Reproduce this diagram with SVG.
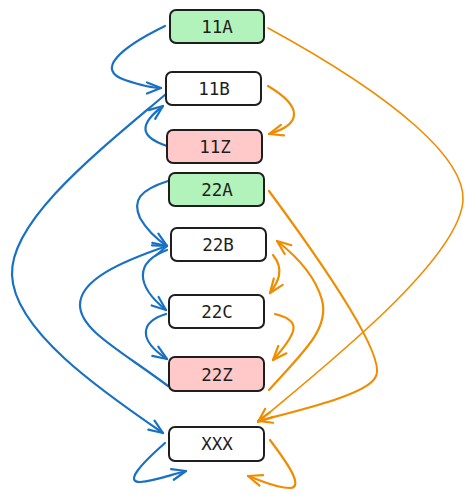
<svg xmlns="http://www.w3.org/2000/svg" width="475" height="497" viewBox="0 0 475 497">
<defs>
<style>
.box{stroke:#1e1e1e;stroke-width:2}
.lbl{font-family:"DejaVu Sans Mono","Liberation Mono",monospace;font-size:17.5px;fill:#1e1e1e;text-anchor:middle;dominant-baseline:central}
.b{fill:none;stroke:#1971c2;stroke-width:2.2;stroke-linecap:round}
.o{fill:none;stroke:#f08c00;stroke-width:2.2;stroke-linecap:round}
.thin{stroke-width:1.6}
</style>
<marker id="ab" markerUnits="userSpaceOnUse" orient="auto" markerWidth="30" markerHeight="30" refX="0" refY="0" overflow="visible">
<path d="M-14,-5.5 L0,0 L-14,5.5" fill="none" stroke="#1971c2" stroke-width="2.2" stroke-linecap="round" stroke-linejoin="round"/>
</marker>
<marker id="ao" markerUnits="userSpaceOnUse" orient="auto" markerWidth="30" markerHeight="30" refX="0" refY="0" overflow="visible">
<path d="M-14,-5.5 L0,0 L-14,5.5" fill="none" stroke="#f08c00" stroke-width="2.2" stroke-linecap="round" stroke-linejoin="round"/>
</marker>
</defs>
<rect width="475" height="497" fill="#ffffff"/>
<g id="connectors">
<path class="b" marker-end="url(#ab)" d="M165,26 C120,48 95,70 125,80 C140,85 150,88 161,88"/>
<path class="b" marker-end="url(#ab)" d="M167,146 C140,137 138,125 163,106"/>
<path class="b" marker-end="url(#ab)" d="M166,94 C100,150 10,220 12,275 C14,330 100,390 163,433"/>
<path class="b" marker-end="url(#ab)" d="M168,181 C140,190 132,200 140,218 C148,232 158,240 167,246"/>
<path class="b" marker-end="url(#ab)" d="M168,386 C120,350 80,330 80,305 C80,280 120,262 167,246"/>
<path class="b" marker-end="url(#ab)" d="M167,250 C135,262 135,285 166,310"/>
<path class="b" marker-end="url(#ab)" d="M166,314 C140,322 138,340 167,359"/>
<path class="b" marker-end="url(#ab)" d="M165,443 C140,465 125,482 140,482 C155,481 170,475 186,471"/>
<path class="o thin" marker-end="url(#ao)" d="M268,28 C400,100 465,160 463,200 C460,260 320,370 258,422"/>
<path class="o" marker-end="url(#ao)" d="M268,86 C305,108 300,125 269,134"/>
<path class="o" marker-end="url(#ao)" d="M269,191 C320,260 390,360 375,378 C365,395 300,410 258,421"/>
<path class="o" marker-end="url(#ao)" d="M269,390 C300,355 330,330 322,300 C315,275 295,255 277,241"/>
<path class="o" marker-end="url(#ao)" d="M273,255 C285,270 278,282 270,293"/>
<path class="o" marker-end="url(#ao)" d="M275,314 C300,320 300,330 273,360"/>
<path class="o" marker-end="url(#ao)" d="M270,440 C285,460 305,487 290,488 C275,488 260,480 248,476"/>
</g>
<g id="n11A"><rect class="box" x="170" y="10" width="94" height="33" rx="6" fill="#b2f2bb"/><text class="lbl" x="217" y="27">11A</text></g>
<g id="n11B"><rect class="box" x="166" y="72" width="95" height="33" rx="6" fill="#ffffff"/><text class="lbl" x="214" y="89">11B</text></g>
<g id="n11Z"><rect class="box" x="167" y="130" width="95" height="33" rx="6" fill="#ffc9c9"/><text class="lbl" x="215" y="147">11Z</text></g>
<g id="n22A"><rect class="box" x="169" y="173" width="95" height="33" rx="6" fill="#b2f2bb"/><text class="lbl" x="217" y="190">22A</text></g>
<g id="n22B"><rect class="box" x="171" y="228" width="95" height="33" rx="6" fill="#ffffff"/><text class="lbl" x="218" y="245">22B</text></g>
<g id="n22C"><rect class="box" x="169" y="295" width="95" height="33" rx="6" fill="#ffffff"/><text class="lbl" x="217" y="312">22C</text></g>
<g id="n22Z"><rect class="box" x="169" y="357" width="95" height="34" rx="6" fill="#ffc9c9"/><text class="lbl" x="217" y="375">22Z</text></g>
<g id="nXXX"><rect class="box" x="169" y="427" width="95" height="34" rx="6" fill="#ffffff"/><text class="lbl" x="217" y="444">XXX</text></g>
</svg>
